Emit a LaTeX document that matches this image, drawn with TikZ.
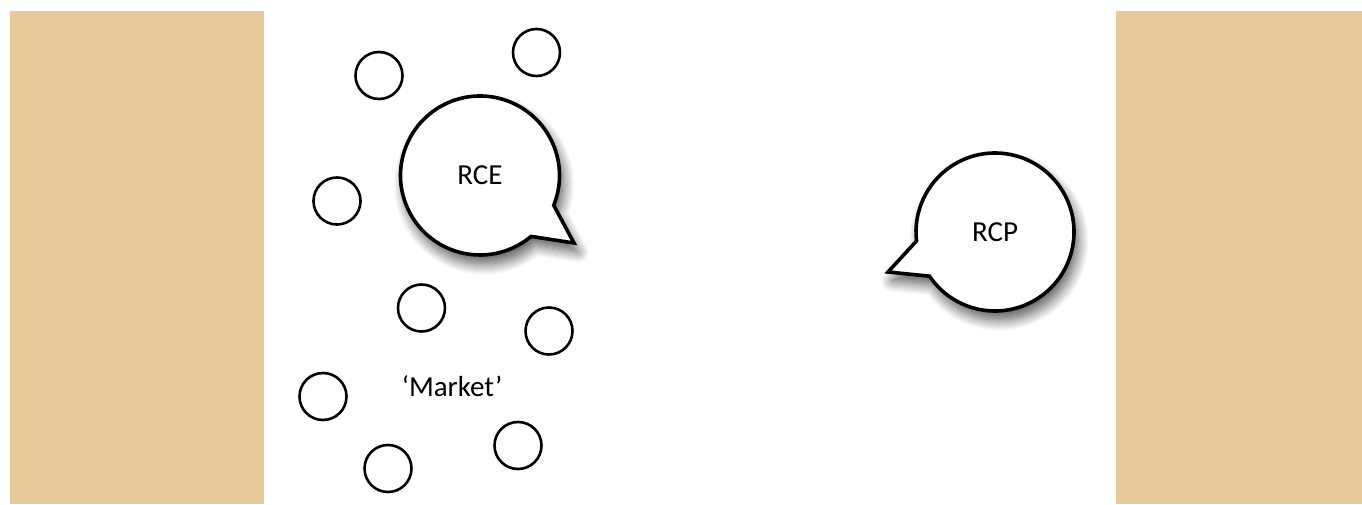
\documentclass[tikz,border=0pt]{standalone}
\usepackage{fontspec}
\setmainfont{Carlito}
\usetikzlibrary{shadows.blur,calc}
\definecolor{tan}{RGB}{232,201,153}
\tikzset{
  panel/.style={fill=tan,draw=none},
  agent/.style={circle,draw=black,line width=2.6pt,fill=white,minimum size=47pt,inner sep=0pt},
  bubble/.style={draw=black,line width=3.6pt,fill=white,line join=miter,
    blur shadow={shadow xshift=4pt,shadow yshift=-9pt,shadow blur radius=11pt,shadow blur steps=12,shadow opacity=65}},
  label/.style={font=\fontsize{29}{34}\selectfont,inner sep=0pt}
}
\begin{document}
\begin{tikzpicture}[x=1pt,y=1pt]
\useasboundingbox (0,0) rectangle (1362,504);
% side panels
\fill[panel] (10,0) rectangle (264,493);
\fill[panel] (1116,0) rectangle (1362,493);
% small market agents
\node[agent] (a1) at (379,428.5) {};
\node[agent] (a2) at (536.5,451.5) {};
\node[agent] (a3) at (337,303) {};
\node[agent] (a4) at (421.5,196) {};
\node[agent] (a5) at (549,173) {};
\node[agent] (a6) at (323,107.5) {};
\node[agent] (a7) at (518,58.5) {};
\node[agent] (a8) at (388,35.5) {};
\node[label] (market) at (452,118) {‘Market’};
% RCE speech bubble
\coordinate (rcec) at (480,328.5);
\coordinate (rcetip) at (574,261);
\draw[bubble] ($(rcec)+(-22:79.5)$) arc[start angle=-22,end angle=310,radius=79.5] -- (rcetip) -- cycle;
\node[label] (rce) at (rcec) {RCE};
% RCP speech bubble
\coordinate (rcpc) at (995,272);
\coordinate (rcptip) at (888,232);
\draw[bubble] ($(rcpc)+(214:79)$) arc[start angle=214,end angle=546.5,radius=79] -- (rcptip) -- cycle;
\node[label] (rcp) at (rcpc) {RCP};
\end{tikzpicture}
\end{document}
